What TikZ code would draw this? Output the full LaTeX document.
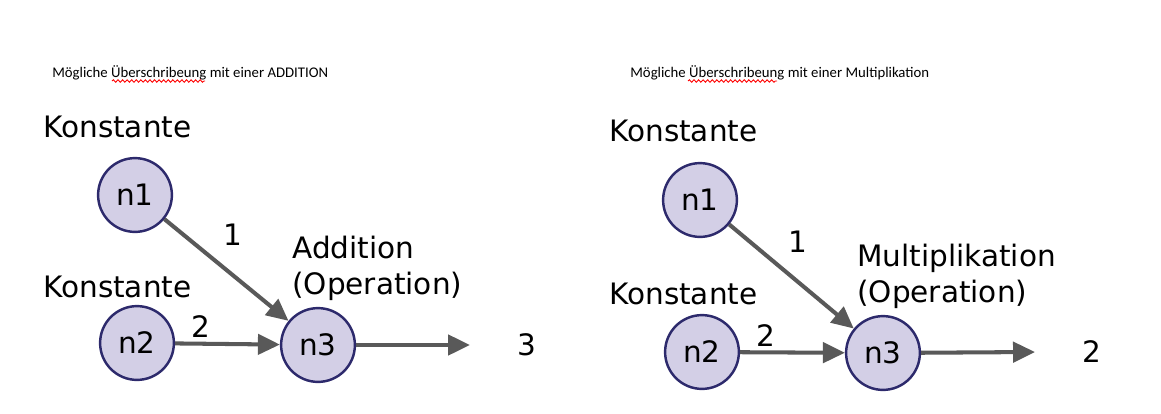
\documentclass[tikz,border=0pt]{standalone}
\usepackage{fontspec}
\newfontfamily\notefont{Carlito}
\newfontfamily\graphfont{DejaVu Sans}
\usetikzlibrary{arrows.meta, positioning, decorations.pathmorphing}
\definecolor{nodefill}{HTML}{D3CFE6}
\definecolor{nodeline}{HTML}{2D2A6C}
\definecolor{edgegray}{HTML}{595959}
\tikzset{
	notetext/.style={font=\notefont\fontsize{8.4}{10}\selectfont, anchor=base west, inner sep=0pt}
}
\tikzset{
	graphtext/.style={font=\graphfont\fontsize{16.8}{20.2}\selectfont, inner sep=0pt}
}
\tikzset{
	opnode/.style={circle, draw=nodeline, fill=nodefill, line width=1.4pt, minimum size=42pt, graphtext},
	edge/.style={draw=edgegray, line width=2.3pt, -{Triangle[length=12.5pt, width=11.5pt]}},
	spellwave/.style={red, line width=0.5pt, decorate, decoration={snake, amplitude=0.7pt, segment length=2.6pt}}
}

\begin{document}
\begin{tikzpicture}[x=0.02cm, y=-0.02cm]
  \useasboundingbox (0,0) rectangle (1161,413);

  % left: addition
  \node[notetext] (noteA) at (52,77) {Mögliche Überschribeung mit einer ADDITION};
  \draw[spellwave] (112,81) -- (205,81);
  \node[graphtext, anchor=base west] (konstA1) at (43,137) {Konstante};
  \node[graphtext, anchor=base west] (konstA2) at (43,297) {Konstante};
  \node[graphtext, anchor=base west, align=left] (opA) at (292,294) {Addition\\(Operation)};
  \node[opnode] (a1) at (135,195) {n1};
  \node[opnode] (a2) at (137,343) {n2};
  \node[opnode] (a3) at (318,345) {n3};
  \coordinate (aout) at (470,345);
  \node[graphtext] (resA) at (527,345) {3};
  \draw[edge] (a1) -- (a3) node[midway, graphtext, shift={(6,-35)}] {1};
  \draw[edge] (a2) -- (a3) node[pos=0.25, graphtext, shift={(0,-17)}] {2};
  \draw[edge] (a3) -- (aout);

  % right: multiplication
  \node[notetext] (noteM) at (630,77) {Mögliche Überschribeung mit einer Multiplikation};
  \draw[spellwave] (688,81) -- (777,81);
  \node[graphtext, anchor=base west] (konstM1) at (609,141) {Konstante};
  \node[graphtext, anchor=base west] (konstM2) at (609,304) {Konstante};
  \node[graphtext, anchor=base west, align=left] (opM) at (857,302) {Multiplikation\\(Operation)};
  \node[opnode] (m1) at (700,200) {n1};
  \node[opnode] (m2) at (702,352) {n2};
  \node[opnode] (m3) at (883,353) {n3};
  \coordinate (mout) at (1035,352);
  \node[graphtext] (resM) at (1092,352) {2};
  \draw[edge] (m1) -- (m3) node[midway, graphtext, shift={(6,-35)}] {1};
  \draw[edge] (m2) -- (m3) node[pos=0.25, graphtext, shift={(0,-17)}] {2};
  \draw[edge] (m3) -- (mout);
\end{tikzpicture}
\end{document}
